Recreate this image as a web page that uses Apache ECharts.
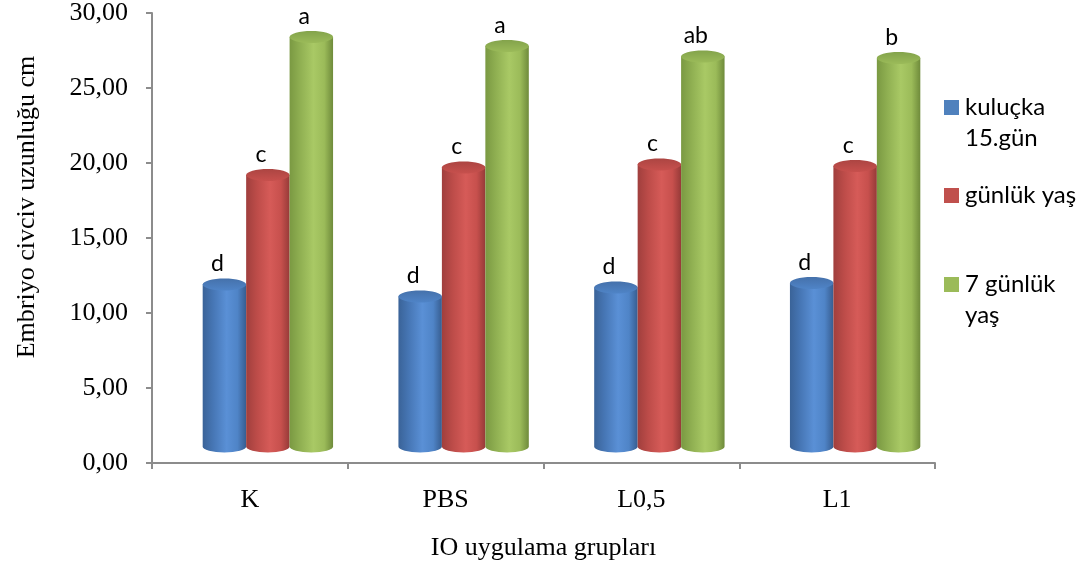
<!DOCTYPE html>
<html>
<head>
<meta charset="utf-8">
<script src="https://cdn.jsdelivr.net/npm/echarts@6/dist/echarts.min.js"></script>
<style>
  html, body { margin: 0; padding: 0; background: #ffffff; }
  #chart { width: 1089px; height: 572px; }
</style>
</head>
<body>
<div id="chart"></div>
<script>
// Groups on the x axis
var categories = ['K', 'PBS', 'L0,5', 'L1'];
// Series names
var seriesNames = ['kuluçka\n15.gün', 'günlük yaş', '7 günlük\nyaş'];
// Mean embryo/chick length (cm)
var hatch15 = [10.8, 10.0, 10.6, 10.9];
var day1 = [18.1, 18.6, 18.8, 18.7];
var day7 = [27.3, 26.7, 26.0, 25.9];
// Significance letters above each column
var letters15 = ['d', 'd', 'd', 'd'];
var lettersDay1 = ['c', 'c', 'c', 'c'];
var lettersDay7 = ['a', 'a', 'ab', 'b'];
// Value axis ticks
var yMin = 0, yMax = 30, yStep = 5;

var seriesValues = [hatch15, day1, day7];
var seriesLetters = [letters15, lettersDay1, lettersDay7];

var palette = [
  { body: ['#3a6398', '#4777b6', '#5a90d6', '#4f84c7', '#375d90'], top: '#4571ab', key: '#4f81bd' },
  { body: ['#a03f3d', '#bd4c49', '#d65b58', '#c7504d', '#963a38'], top: '#ac4542', key: '#c0504d' },
  { body: ['#7a9942', '#90b052', '#a9c965', '#9bbb59', '#6f8b3b'], top: '#83a34b', key: '#9bbb59' }
];

// Columns stand in the middle of a receding floor: shifted right and up
var DEPTH_X = 18, DEPTH_Y = -16.5;
var BAR_RATIO = 0.222;
var RY = 6;

var chart = echarts.init(document.getElementById('chart'));

function makeCylinderSeries(si) {
  var pal = palette[si];
  return {
    type: 'custom',
    name: seriesNames[si],
    data: seriesValues[si].map(function (v, i) { return [i, v]; }),
    renderItem: function (params, api) {
      var cat = api.value(0), val = api.value(1);
      var base = api.coord([cat, 0]);
      var top = api.coord([cat, val]);
      var bandW = api.size([1, 0])[0];
      var w = bandW * BAR_RATIO;
      var cx = base[0] + (si - 1) * w + DEPTH_X;
      var rx = w / 2;
      var yb = base[1] + DEPTH_Y;
      var yt = top[1] + DEPTH_Y;
      var l = cx - rx, r = cx + rx;
      var bodyPath = 'M' + l + ',' + yt + ' L' + l + ',' + yb +
        ' A' + rx + ',' + RY + ' 0 0 0 ' + r + ',' + yb +
        ' L' + r + ',' + yt + ' Z';
      var b = pal.body;
      return {
        type: 'group',
        children: [
          {
            type: 'path',
            shape: { pathData: bodyPath },
            style: {
              fill: new echarts.graphic.LinearGradient(0, 0, 1, 0, [
                { offset: 0, color: b[0] },
                { offset: 0.25, color: b[1] },
                { offset: 0.55, color: b[2] },
                { offset: 0.8, color: b[3] },
                { offset: 1, color: b[4] }
              ])
            }
          },
          {
            type: 'ellipse',
            shape: { cx: cx, cy: yt, rx: rx, ry: RY },
            style: {
              fill: new echarts.graphic.LinearGradient(0, 0, 0, 1, [
                { offset: 0, color: pal.top },
                { offset: 1, color: b[3] }
              ])
            }
          },
          {
            type: 'text',
            x: cx - 7,
            y: yt - RY - 3,
            style: {
              text: seriesLetters[si][params.dataIndex],
              fontFamily: 'Lato',
              fontSize: 23,
              fill: '#000000',
              align: 'center',
              verticalAlign: 'bottom'
            }
          }
        ]
      };
    }
  };
}

function fmt(v) { return v.toFixed(2).replace('.', ','); }

var axisGray = '#8c8c8c';
var serif = 'Liberation Serif';

// Legend built from the series names and key colours
var legendGraphics = [];
var legendRows = [107.5, 195.5, 284.5];
seriesNames.forEach(function (name, i) {
  legendGraphics.push({
    type: 'rect',
    shape: { x: 944, y: legendRows[i] - 7.5, width: 15, height: 15 },
    style: { fill: palette[i].key }
  });
  legendGraphics.push({
    type: 'text',
    x: 965,
    y: legendRows[i] - 16,
    style: {
      text: name,
      fontFamily: 'Lato',
      fontSize: 24,
      lineHeight: 31,
      fill: '#000000',
      verticalAlign: 'top'
    }
  });
});

chart.setOption({
  animation: false,
  backgroundColor: '#ffffff',
  grid: { left: 152, right: 154, top: 13, bottom: 109 },
  xAxis: {
    type: 'category',
    data: categories,
    name: 'IO uygulama grupları',
    nameLocation: 'middle',
    nameGap: 72,
    nameTextStyle: { fontFamily: serif, fontSize: 26, color: '#000' },
    axisLine: { lineStyle: { color: axisGray, width: 2 } },
    axisTick: { show: true, length: 6, lineStyle: { color: axisGray, width: 2 } },
    axisLabel: { margin: 24, fontFamily: serif, fontSize: 26, color: '#000' }
  },
  yAxis: {
    type: 'value',
    min: yMin, max: yMax, interval: yStep,
    name: 'Embriyo civciv uzunluğu cm',
    nameLocation: 'middle',
    nameGap: 112,
    nameTextStyle: { fontFamily: serif, fontSize: 26, color: '#000', padding: [0, 0, 0, 62] },
    axisLine: { show: true, lineStyle: { color: axisGray, width: 2 } },
    axisTick: { show: true, length: 6, lineStyle: { color: axisGray, width: 2 } },
    splitLine: { show: false },
    axisLabel: { margin: 24, fontFamily: serif, fontSize: 26, color: '#000', formatter: fmt }
  },
  graphic: legendGraphics,
  series: [0, 1, 2].map(makeCylinderSeries)
});
</script>
</body>
</html>
